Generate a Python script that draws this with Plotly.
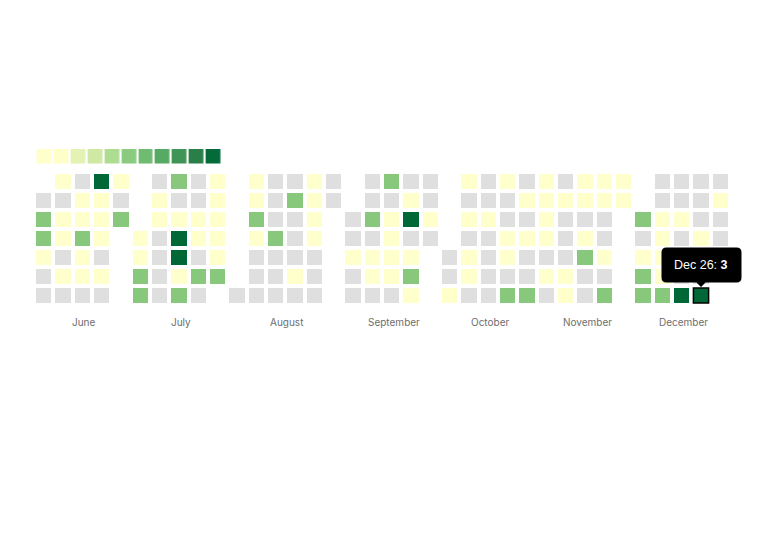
import datetime as dt
import plotly.graph_objects as go

# ---------------- data ----------------
YEAR = 2026
month_names = ["June", "July", "August", "September", "October", "November", "December"]
month_numbers = [6, 7, 8, 9, 10, 11, 12]

june = [0, 2, 2, 1, 0, 0, 1, 0, 1, 1, 0, 1, 0, 0, 1, 1, 2, 1, 1, 0, 3, 1, 1, 1, 0, 1, 0, 1, 0, 2]
july = [1, 1, 2, 2, 0, 1, 1, 0, 0, 0, 0, 2, 0, 1, 3, 3, 1, 2, 0, 0, 1, 1, 0, 2, 0, 1, 1, 1, 1, 1, 2]
august = [0, 1, 1, 2, 1, 0, 0, 0, 0, 0, 0, 2, 0, 0, 0, 0, 2, 0, 0, 0, 1, 0, 1, 1, 1, 1, 0, 0, 0, 0, 0]
september = [0, 0, 1, 0, 0, 0, 0, 2, 0, 1, 1, 0, 2, 0, 1, 1, 1, 1, 0, 0, 1, 3, 0, 1, 2, 1, 0, 0, 1, 0]
october = [0, 0, 1, 1, 0, 1, 0, 1, 1, 0, 0, 0, 1, 0, 0, 0, 0, 1, 0, 0, 1, 1, 0, 2, 0, 1, 0, 1, 0, 0, 2]
november = [1, 1, 1, 1, 0, 1, 0, 0, 1, 0, 0, 0, 1, 1, 1, 1, 0, 1, 2, 0, 0, 1, 1, 0, 0, 1, 0, 2, 1, 1]
december = [2, 0, 1, 2, 2, 0, 0, 1, 1, 1, 1, 2, 0, 0, 1, 0, 0, 0, 3, 0, 0, 0, 1, 0, 0, 3, 0, 1, 0, 0, 0]
month_values = [june, july, august, september, october, november, december]

value_colors = ["#dfdfdf", "#ffffcc", "#88c87d", "#006837"]   # 0,1,2,3
legend_steps = list(range(11))
legend_colors = ["#ffffcc", "#fdfec8", "#e4f3b4", "#cfe8a3", "#aedc91", "#8bcb7f",
                 "#6fbb71", "#57aa64", "#3f9555", "#2a7e48", "#056a39"]

tooltip_month, tooltip_day = 12, 26

# ---------------- layout of the calendar grid ----------------
n_cols = 0
month_info = []
for m, vals in zip(month_numbers, month_values):
    first = dt.date(YEAR, m, 1)
    fw = (first.weekday() + 1) % 7          # Sunday-first row index
    nweeks = -(-(fw + len(vals)) // 7)
    month_info.append((m, vals, first, fw, n_cols, nweeks))
    n_cols += nweeks

z = [[None] * n_cols for _ in range(7)]
hover = [[""] * n_cols for _ in range(7)]
centers = []
hl_col = hl_row = None
for m, vals, first, fw, off, nweeks in month_info:
    for i, v in enumerate(vals):
        k = fw + i
        c, r = off + k // 7, k % 7
        z[r][c] = v
        d = first.replace(day=i + 1)
        hover[r][c] = f"{d.strftime('%b')} {d.day}: {v}"
        if m == tooltip_month and i + 1 == tooltip_day:
            hl_col, hl_row = c, r
    centers.append(off + (nweeks - 1) / 2)

def discrete_scale(colors):
    n = len(colors)
    cs = []
    for i, col in enumerate(colors):
        cs.append([i / n, col])
        cs.append([(i + 1) / n, col])
    return cs

fig = go.Figure()
fig.add_trace(go.Heatmap(
    z=z, text=hover, hoverinfo="text",
    colorscale=discrete_scale(value_colors), zmin=-0.5, zmax=len(value_colors) - 0.5,
    showscale=False, xgap=4, ygap=4,
))
fig.add_trace(go.Heatmap(
    z=[legend_steps], xaxis="x2", yaxis="y2", hoverinfo="skip",
    colorscale=discrete_scale(legend_colors), zmin=-0.5, zmax=len(legend_colors) - 0.5,
    showscale=False, xgap=2.2, ygap=0,
))

W, H = 777, 535
L, R, T, B = 34, 47, 149, 230
ph = H - T - B
pw = W - L - R
main_top = (H - B - 172) / ph
leg_bottom = (H - B - 163.5) / ph
leg_x0 = (35.6 - L) / pw
leg_x1 = (221.8 - L) / pw

hidden = dict(visible=False, showgrid=False, zeroline=False, fixedrange=True)
fig.update_layout(
    width=W, height=H,
    margin=dict(l=L, r=R, t=T, b=B, pad=0),
    paper_bgcolor="white", plot_bgcolor="white",
    showlegend=False,
    xaxis=dict(range=[-0.5, n_cols - 0.5], domain=[0, 1], **hidden),
    yaxis=dict(range=[6.5, -0.5], domain=[0, main_top], **hidden),
    xaxis2=dict(range=[-0.5, len(legend_steps) - 0.5], domain=[leg_x0, leg_x1], anchor="y2", **hidden),
    yaxis2=dict(range=[-0.5, 0.5], domain=[leg_bottom, 1], anchor="x2", **hidden),
)

annotations = []
for name, cx in zip(month_names, centers):
    annotations.append(dict(
        x=cx, xref="x", y=(H - B - 321.5) / ph, yref="paper", xshift=2,
        text=name, showarrow=False, xanchor="center", yanchor="middle",
        font=dict(family="Inter, sans-serif", size=10, color="#6e6e6e"),
    ))

# tooltip (anchored in paper coordinates at the highlighted cell so it is not clipped)
ax_paper = (hl_col + 0.5) / n_cols
ay_paper = main_top * (1 - (hl_row + 0.5) / 7)
l_, r_, b_, t_, rad, tri, tip = -39.5, 40.5, 13, 48, 5, 4.5, 8.5
path = (f"M {l_+rad},{t_} L {r_-rad},{t_} Q {r_},{t_} {r_},{t_-rad} "
        f"L {r_},{b_+rad} Q {r_},{b_} {r_-rad},{b_} L {tri},{b_} L 0,{tip} L {-tri},{b_} "
        f"L {l_+rad},{b_} Q {l_},{b_} {l_},{b_+rad} L {l_},{t_-rad} Q {l_},{t_} {l_+rad},{t_} Z")
shapes = [
    dict(type="rect", xref="paper", yref="paper", xsizemode="pixel", ysizemode="pixel",
         xanchor=ax_paper, yanchor=ay_paper, x0=-7.6, x1=7.6, y0=-7.4, y1=7.4,
         line=dict(color="black", width=1.5), fillcolor="rgba(0,0,0,0)"),
    dict(type="path", xref="paper", yref="paper", xsizemode="pixel", ysizemode="pixel",
         xanchor=ax_paper, yanchor=ay_paper, path=path,
         line=dict(color="black", width=0), fillcolor="black"),
]
d = dt.date(YEAR, tooltip_month, tooltip_day)
annotations.append(dict(
    x=hl_col, y=hl_row, xref="x", yref="y", yshift=30.5, showarrow=False,
    text=f"{d.strftime('%b')} {d.day}: <b>{z[hl_row][hl_col]}</b>",
    xanchor="center", yanchor="middle",
    font=dict(family="Liberation Sans, Arial, sans-serif", size=12.5, color="white"),
))
fig.update_layout(annotations=annotations, shapes=shapes)

fig.write_html("out.html")
